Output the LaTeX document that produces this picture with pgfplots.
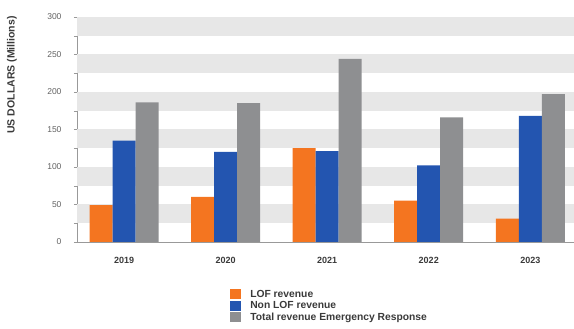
\documentclass[border=0pt]{standalone}
\usepackage{pgfplots}
\pgfplotsset{compat=1.18}
\usepackage{fontspec}
\setmainfont{Liberation Sans}
\definecolor{cOrange}{HTML}{F47520}
\definecolor{cBlue}{HTML}{2355B0}
\definecolor{cGray}{HTML}{8E8F91}
\definecolor{cBand}{HTML}{E7E7E7}
\definecolor{cText}{HTML}{3A3A3A}
\begin{document}
\begin{tikzpicture}[x=1pt,y=1pt]
\path[use as bounding box] (0,0) rectangle (574,329);
\begin{axis}[
  at={(77pt,87pt)}, anchor=south west,
  scale only axis, width=497pt, height=225pt,
  xmin=-0.463, xmax=4.43, ymin=0, ymax=300,
  ybar=0pt, bar width=23pt,
  xtick={0,1,2,3,4}, xticklabels={2019,2020,2021,2022,2023},
  xticklabel style={font=\fontsize{9}{10}\selectfont\bfseries, text=cText, yshift=-9pt},
  x tick style={draw=none},
  ytick={0,50,...,300}, minor ytick={25,75,...,275},
  yticklabel style={font=\fontsize{8.5}{10}\selectfont, text=cText!80, xshift=-9pt},
  y tick style={draw=gray!80, thin},
  tick align=outside, major tick length=3pt, minor tick length=3pt,
  axis x line*=bottom, axis y line*=left,
  axis line style={draw=gray!80, thick},
  /pgf/number format/assume math mode=true,
  legend style={at={(0.308,-0.204)}, anchor=north west, draw=none, fill=none,
    font=\fontsize{10.3}{11}\selectfont\bfseries, text=cText, row sep=-1.3pt, column sep=7pt,
    inner sep=0pt, legend cell align=left},
  legend image code/.code={\fill[#1] (0pt,-5pt) rectangle (11pt,5pt);},
]
\foreach \lo in {25,75,125,175,225,275} {
  \edef\tmp{\noexpand\fill[cBand] (axis cs:-1,\lo) rectangle (axis cs:5,\the\numexpr\lo+25\relax);}
  \tmp
}
\addplot[draw=none, fill=cOrange] coordinates {(0,49) (1,60) (2,125) (3,55) (4,31)};
\addplot[draw=none, fill=cBlue] coordinates {(0,135) (1,120) (2,121) (3,102) (4,168)};
\addplot[draw=none, fill=cGray] coordinates {(0,186) (1,185) (2,244) (3,166) (4,197)};
\legend{LOF revenue, Non LOF revenue, Total revenue Emergency Response}
\end{axis}
\node[rotate=90, font=\fontsize{10.5}{12}\selectfont\bfseries, text=cText] at (12,254) {US DOLLARS (Millions)};
\end{tikzpicture}
\end{document}
